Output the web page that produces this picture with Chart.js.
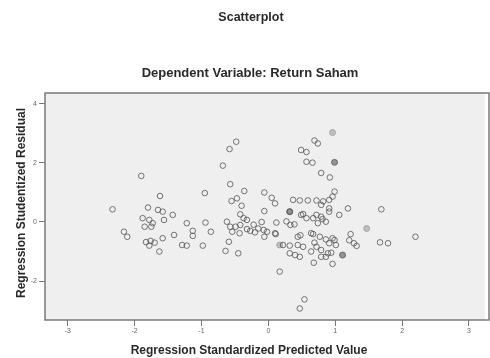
<!DOCTYPE html>
<html lang="en">
<head>
    <meta charset="UTF-8">
    <title>Scatterplot</title>
    <script src="https://cdn.jsdelivr.net/npm/chart.js"></script>
    <style>
        body {
            margin: 0;
            background: #fff;
        }
        .chart-container {
            position: relative;
            width: 490px;
            height: 358px;
        }
    </style>
</head>
<body>
    <div class="chart-container">
        <canvas id="scatterChart" width="490" height="358"></canvas>
    </div>

    <script>
        // Regression standardized predicted values (x) and studentized residuals (y)
        const predicted = [
            -2.33, -2.16, -2.11, -1.90, -1.62, -1.80, -1.65, -1.58, -1.43, -1.88,
            -1.78, -1.73, -1.85, -1.75, -1.56, -1.41, -1.58, -1.83, -1.76, -1.70,
            -1.78, -1.63, -1.29, -1.22, -1.13, -1.13, -1.22, -0.98, -0.94, -0.86,
            -0.95, -0.68, -0.58, -0.48, -0.57, -0.55, -0.47, -0.36, -0.40, -0.42,
            -0.37, -0.32, -0.62, -0.57, -0.49, -0.42, -0.54, -0.43, -0.32, -0.59,
            -0.64, -0.45, -0.22, -0.15, -0.07, -0.02, -0.20, -0.06, 0.05, 0.10,
            -0.06, 0.12, 0.10, -0.06, 0.69, 0.74, 0.49, 0.57, 0.57, 0.66,
            0.79, 0.92, 0.99, 0.96, 0.37, 0.47, 0.59, 0.72, 0.82, 0.91,
            0.79, 0.91, 1.19, 1.06, 1.69, 0.32, 0.49, 0.57, 0.67, 0.79,
            0.86, 0.39, 0.11, 0.44, 0.48, 0.67, 0.77, 0.86, 0.96, 1.01,
            1.23, 1.21, 1.28, 1.32, 1.67, 1.79, 2.20, 0.22, 0.32, 0.44,
            0.52, 0.32, 0.40, 0.47, 0.72, 0.79, 0.89, 0.79, 0.96, 0.68,
            0.17, 0.54, 0.47, 0.52, 0.72, 0.81, 0.91, 0.74, 0.64, 0.99,
            0.69, 0.91, 0.64, 0.94, 0.86, 0.27, 0.33, -0.27, -0.10
        ];
        const residual = [
            0.43, -0.33, -0.50, 1.56, 0.88, 0.49, 0.41, 0.35, 0.24, 0.13,
            0.07, -0.04, -0.16, -0.16, 0.07, -0.44, -0.55, -0.68, -0.64, -0.70,
            -0.80, -1.00, -0.78, -0.04, -0.30, -0.47, -0.80, -0.80, -0.02, -0.33,
            0.98, 1.91, 2.47, 2.72, 1.28, 0.71, 0.80, 1.05, 0.55, 0.26,
            0.13, 0.07, 0.01, -0.16, -0.16, -0.10, -0.33, -0.38, -0.24, -0.67,
            -0.98, -1.06, -0.09, -0.22, -0.27, -0.33, -0.35, 1.00, 0.82, 0.63,
            0.37, -0.02, -0.38, -0.50, 2.76, 2.66, 2.44, 2.37, 2.04, 2.01,
            1.66, 1.51, 1.03, 0.86, 0.75, 0.73, 0.73, 0.73, 0.70, 0.75,
            0.58, 0.46, 0.46, 0.24, 0.43, 0.35, 0.24, 0.13, 0.13, 0.18,
            0.01, -0.08, -0.41, -0.50, -0.45, -0.41, -0.50, -0.59, -0.55, -0.78,
            -0.41, -0.62, -0.72, -0.81, -0.69, -0.72, -0.50, -0.78, -0.80, -0.78,
            -0.84, -1.06, -1.12, -1.18, -0.84, -0.95, -1.06, -1.18, -1.42, -1.38,
            -1.68, -2.62, -2.93, 0.27, 0.24, 0.10, 0.35, -0.04, -0.38, -0.61,
            -0.70, -0.72, -1.00, -1.04, -1.18, 0.02, -0.10, -0.30, 0.00
        ];

        // overlapping points that show up as shaded dots
        const shadedPredicted = [0.96, 1.47, 0.17];
        const shadedResidual = [3.03, -0.22, -0.78];
        const darkPredicted = [0.99, 1.11, 0.32];
        const darkResidual = [2.02, -1.12, 0.35];

        const xTickValues = [-3, -2, -1, 0, 1, 2, 3];
        const yTickValues = [-2, 0, 2, 4];

        const chartTitle = 'Scatterplot';
        const chartSubtitle = 'Dependent Variable: Return Saham';
        const xTitle = 'Regression Standardized Predicted Value';
        const yTitle = 'Regression Studentized Residual';

        function toPoints(xs, ys) {
            return xs.map((x, i) => ({ x: x, y: ys[i] }));
        }

        // Plot background, frame and the text around it
        const spssFrame = {
            id: 'spssFrame',
            beforeDatasetsDraw(chart) {
                const { ctx, chartArea: a } = chart;
                ctx.save();
                ctx.fillStyle = '#efefef';
                ctx.fillRect(a.left, a.top, a.right - a.left, a.bottom - a.top);
                ctx.restore();
            },
            afterDraw(chart) {
                const { ctx, chartArea: a } = chart;
                ctx.save();
                ctx.strokeStyle = '#7a7a7a';
                ctx.lineWidth = 1.5;
                ctx.strokeRect(a.left, a.top, a.right - a.left + 4, a.bottom - a.top);

                ctx.fillStyle = '#2a2a2a';
                ctx.textAlign = 'center';
                ctx.textBaseline = 'middle';
                ctx.font = 'bold 12.5px "Liberation Sans", Arial, sans-serif';
                ctx.fillText(chartTitle, 251, 18);
                ctx.font = 'bold 13px "Liberation Sans", Arial, sans-serif';
                ctx.fillText(chartSubtitle, 250, 73);
                ctx.font = 'bold 12px "Liberation Sans", Arial, sans-serif';
                ctx.fillText(xTitle, 249, 351);

                ctx.translate(22, 203);
                ctx.rotate(-Math.PI / 2);
                ctx.fillText(yTitle, 0, 0);
                ctx.restore();
            }
        };

        const ctx = document.getElementById('scatterChart').getContext('2d');
        new Chart(ctx, {
            type: 'scatter',
            data: {
                datasets: [{
                    label: 'Residuals',
                    data: toPoints(predicted, residual),
                    pointStyle: 'circle',
                    pointRadius: 2.8,
                    borderWidth: 1,
                    borderColor: 'rgba(85, 85, 85, 0.8)',
                    backgroundColor: 'rgba(0, 0, 0, 0)'
                }, {
                    label: 'Shaded',
                    data: toPoints(shadedPredicted, shadedResidual),
                    pointStyle: 'circle',
                    pointRadius: 3,
                    borderWidth: 1,
                    borderColor: 'rgba(150, 150, 150, 0.7)',
                    backgroundColor: 'rgba(170, 170, 170, 0.7)'
                }, {
                    label: 'Dark',
                    data: toPoints(darkPredicted, darkResidual),
                    pointStyle: 'circle',
                    pointRadius: 3,
                    borderWidth: 1,
                    borderColor: 'rgba(90, 90, 90, 0.8)',
                    backgroundColor: 'rgba(110, 110, 110, 0.7)'
                }]
            },
            options: {
                responsive: false,
                animation: false,
                devicePixelRatio: 1,
                layout: {
                    padding: { top: 93, right: 1, bottom: 0, left: 0 }
                },
                plugins: {
                    legend: { display: false },
                    title: { display: false },
                    tooltip: { enabled: false }
                },
                scales: {
                    x: {
                        type: 'linear',
                        min: -3.34,
                        max: 3.24,
                        afterFit(scale) { scale.height = 38; },
                        afterBuildTicks(scale) {
                            scale.ticks = xTickValues.map(v => ({ value: v }));
                        },
                        grid: {
                            drawOnChartArea: false,
                            drawTicks: true,
                            tickLength: 6,
                            color: '#777'
                        },
                        border: { display: false },
                        ticks: {
                            padding: 1,
                            color: '#666',
                            font: { size: 7, family: '"Liberation Sans", Arial, sans-serif' }
                        }
                    },
                    y: {
                        type: 'linear',
                        min: -3.32,
                        max: 4.37,
                        afterFit(scale) { scale.width = 45; },
                        afterBuildTicks(scale) {
                            scale.ticks = yTickValues.map(v => ({ value: v }));
                        },
                        grid: {
                            drawOnChartArea: false,
                            drawTicks: true,
                            tickLength: 6,
                            color: '#777'
                        },
                        border: { display: false },
                        ticks: {
                            padding: 2,
                            color: '#666',
                            font: { size: 7, family: '"Liberation Sans", Arial, sans-serif' }
                        }
                    }
                }
            },
            plugins: [spssFrame]
        });
    </script>
</body>
</html>
